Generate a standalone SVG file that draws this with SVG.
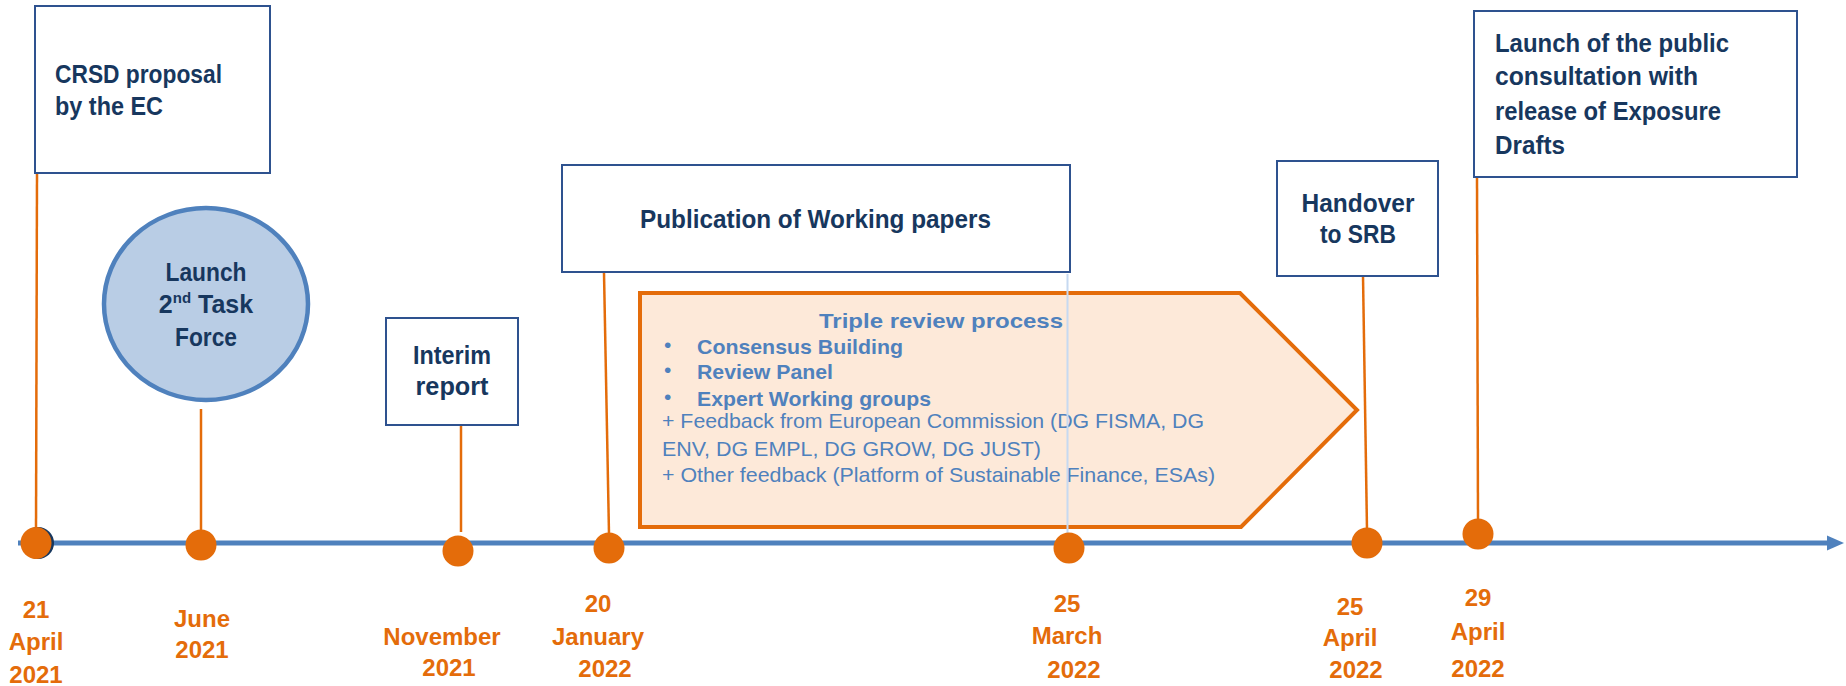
<svg xmlns="http://www.w3.org/2000/svg" width="1846" height="686" viewBox="0 0 1846 686">
<style>
.box{fill:#ffffff;stroke:#2E528F;stroke-width:2}
.lbl{font-family:"Liberation Sans",Arial,sans-serif;font-weight:bold;font-size:25px;fill:#17375E}
.date{font-family:"Liberation Sans",Arial,sans-serif;font-weight:bold;font-size:24px;fill:#E46C0A;text-anchor:middle}
.conn{stroke:#E46C0A;stroke-width:2.5;fill:none}
.dot{fill:#E46C0A}
.pt{font-family:"Liberation Sans",Arial,sans-serif;font-size:21px;fill:#4F81BD}
.ptb{font-family:"Liberation Sans",Arial,sans-serif;font-size:21px;font-weight:bold;fill:#4F81BD}
</style>
<rect width="1846" height="686" fill="#ffffff"/>

<g id="axis">
<line x1="18" y1="543" x2="1830" y2="543" stroke="#4F81BD" stroke-width="5"/>
<polygon points="1827,535.5 1844,543 1827,550.5" fill="#4F81BD"/>
</g>

<g id="review-process">
<polygon points="640,293 1240,293 1357,410 1241,527 640,527" fill="#FDE9D9" stroke="#E46C0A" stroke-width="4"/>
<text class="ptb" x="941" y="328" font-size="23" text-anchor="middle" textLength="244" lengthAdjust="spacingAndGlyphs">Triple review process</text>
<text class="pt" x="664" y="352">•</text>
<text class="ptb" x="697" y="354" textLength="206" lengthAdjust="spacingAndGlyphs">Consensus Building</text>
<text class="pt" x="664" y="377">•</text>
<text class="ptb" x="697" y="379" textLength="136" lengthAdjust="spacingAndGlyphs">Review Panel</text>
<text class="pt" x="664" y="404">•</text>
<text class="ptb" x="697" y="406" textLength="234" lengthAdjust="spacingAndGlyphs">Expert Working groups</text>
<text class="pt" x="662" y="428" textLength="542" lengthAdjust="spacingAndGlyphs">+ Feedback from European Commission (DG FISMA, DG</text>
<text class="pt" x="662" y="456" textLength="379" lengthAdjust="spacingAndGlyphs">ENV, DG EMPL, DG GROW, DG JUST)</text>
<text class="pt" x="662" y="482" textLength="553" lengthAdjust="spacingAndGlyphs">+ Other feedback (Platform of Sustainable Finance, ESAs)</text>
</g>

<g id="connectors">
<line class="conn" x1="37" y1="173" x2="36" y2="532"/>
<line class="conn" x1="201" y1="409" x2="201" y2="532"/>
<line class="conn" x1="461" y1="425" x2="461" y2="532"/>
<line class="conn" x1="604" y1="273" x2="609" y2="534"/>
<line x1="1067.5" y1="274" x2="1067.5" y2="534" stroke="#C6D9F1" stroke-width="2"/>
<line class="conn" x1="1363" y1="276" x2="1367" y2="530"/>
<line class="conn" x1="1477" y1="177" x2="1478" y2="520"/>
</g>

<g id="dots">
<ellipse cx="38" cy="543" rx="16" ry="16" fill="#17375E"/>
<ellipse class="dot" cx="36" cy="543" rx="15.5" ry="16"/>
<ellipse class="dot" cx="201" cy="545" rx="15.5" ry="15.5"/>
<ellipse class="dot" cx="458" cy="551" rx="15.5" ry="15.5"/>
<ellipse class="dot" cx="609" cy="548" rx="15.5" ry="15.5"/>
<ellipse class="dot" cx="1069" cy="548" rx="15.5" ry="15.5"/>
<ellipse class="dot" cx="1367" cy="543" rx="15.5" ry="15.5"/>
<ellipse class="dot" cx="1478" cy="534" rx="15.5" ry="15.5"/>
</g>

<g id="crsd-proposal">
<rect class="box" x="35" y="6" width="235" height="167"/>
<text class="lbl" x="55" y="83" textLength="167" lengthAdjust="spacingAndGlyphs">CRSD proposal</text>
<text class="lbl" x="55" y="115" textLength="108" lengthAdjust="spacingAndGlyphs">by the EC</text>
</g>

<g id="launch-task-force">
<ellipse cx="206" cy="304" rx="102" ry="96" fill="#B9CDE5" stroke="#4F81BD" stroke-width="4.5"/>
<text class="lbl" x="206" y="281" text-anchor="middle" textLength="81" lengthAdjust="spacingAndGlyphs">Launch</text>
<text class="lbl" x="206" y="313" text-anchor="middle">2<tspan font-size="15" dy="-10">nd</tspan><tspan dy="10"> Task</tspan></text>
<text class="lbl" x="206" y="346" text-anchor="middle" textLength="62" lengthAdjust="spacingAndGlyphs">Force</text>
</g>

<g id="interim-report">
<rect class="box" x="386" y="318" width="132" height="107"/>
<text class="lbl" x="452" y="364" text-anchor="middle" textLength="78" lengthAdjust="spacingAndGlyphs">Interim</text>
<text class="lbl" x="452" y="395" text-anchor="middle" textLength="73" lengthAdjust="spacingAndGlyphs">report</text>
</g>

<g id="working-papers">
<rect class="box" x="562" y="165" width="508" height="107"/>
<text class="lbl" x="640" y="228" textLength="351" lengthAdjust="spacingAndGlyphs">Publication of Working papers</text>
</g>

<g id="handover-srb">
<rect class="box" x="1277" y="161" width="161" height="115"/>
<text class="lbl" x="1358" y="212" text-anchor="middle" textLength="113" lengthAdjust="spacingAndGlyphs">Handover</text>
<text class="lbl" x="1358" y="243" text-anchor="middle" textLength="76" lengthAdjust="spacingAndGlyphs">to SRB</text>
</g>

<g id="public-consultation">
<rect class="box" x="1474" y="11" width="323" height="166"/>
<text class="lbl" x="1495" y="52" textLength="234" lengthAdjust="spacingAndGlyphs">Launch of the public</text>
<text class="lbl" x="1495" y="85" textLength="203" lengthAdjust="spacingAndGlyphs">consultation with</text>
<text class="lbl" x="1495" y="120" textLength="226" lengthAdjust="spacingAndGlyphs">release of Exposure</text>
<text class="lbl" x="1495" y="154" textLength="70" lengthAdjust="spacingAndGlyphs">Drafts</text>
</g>

<g id="date-labels">
<text class="date" x="36" y="618">21</text>
<text class="date" x="36" y="650">April</text>
<text class="date" x="36" y="683">2021</text>
<text class="date" x="202" y="627">June</text>
<text class="date" x="202" y="658">2021</text>
<text class="date" x="442" y="645">November</text>
<text class="date" x="449" y="676">2021</text>
<text class="date" x="598" y="612">20</text>
<text class="date" x="598" y="645">January</text>
<text class="date" x="605" y="677">2022</text>
<text class="date" x="1067" y="612">25</text>
<text class="date" x="1067" y="644">March</text>
<text class="date" x="1074" y="678">2022</text>
<text class="date" x="1350" y="615">25</text>
<text class="date" x="1350" y="646">April</text>
<text class="date" x="1356" y="678">2022</text>
<text class="date" x="1478" y="606">29</text>
<text class="date" x="1478" y="640">April</text>
<text class="date" x="1478" y="677">2022</text>
</g>
</svg>
